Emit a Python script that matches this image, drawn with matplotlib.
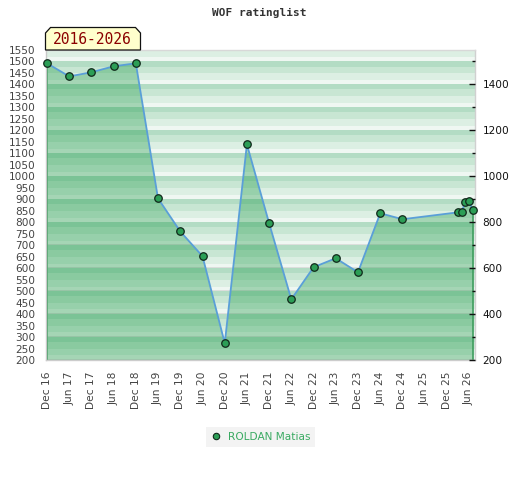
import numpy as np
import matplotlib
matplotlib.use("Agg")
import matplotlib.pyplot as plt
import matplotlib.dates as mdates
from matplotlib.patches import Polygon
from matplotlib.lines import Line2D
import datetime as dt

# ---- data ----
dates = ['2016-12-01', '2017-06-01', '2017-12-01', '2018-06-01', '2018-12-01',
         '2019-06-01', '2019-12-01', '2020-06-01', '2020-12-01', '2021-06-01',
         '2021-12-01', '2022-06-01', '2022-12-01', '2023-06-01', '2023-12-01',
         '2024-06-01', '2024-12-01', '2026-03-01', '2026-04-01', '2026-05-01',
         '2026-06-01', '2026-07-01']
ratings = [1492, 1435, 1453, 1479, 1492, 904, 760, 652, 273, 1139,
           795, 464, 604, 643, 582, 839, 813, 843, 846, 887, 891, 853]
player = 'ROLDAN Matias'
title = 'WOF ratinglist'
period_label = '2016-2026'
y_left_ticks = list(range(200, 1551, 50))
y_right_major = list(range(200, 1401, 200))
y_right_minor = list(range(300, 1501, 200))

W, H = 520, 480
fig = plt.figure(figsize=(W / 100, H / 100), dpi=100)
ax = fig.add_axes([45.7 / W, 1 - 360 / H, (475 - 45.7) / W, (360 - 50) / H])

x = mdates.date2num([dt.datetime.strptime(d, '%Y-%m-%d') for d in dates])
ymin, ymax = 200, 1550
xmin = mdates.date2num(dt.datetime(2016, 11, 20))
xmax = mdates.date2num(dt.datetime(2026, 7, 20))

# striped background (sawtooth of shades, period 100)
levels = ['#b3dcc4', '#c8e6d3', '#dcefe3', '#eff7f2']
res = 1.0
vals = np.arange(ymax, ymin, -res) - res / 2
rows = []
for v in vals:
    phase = (np.ceil(v / 100) * 100 - v) / 100.0
    if phase < 0.22:
        c = levels[0]
    elif phase < 0.5:
        c = levels[1]
    elif phase < 0.8:
        c = levels[2]
    else:
        c = levels[3]
    if phase > 0.97:
        c = '#dcdedc'
    rows.append(matplotlib.colors.to_rgb(c))
img = np.array(rows)[:, None, :]
ax.imshow(img, extent=[xmin, xmax, ymin, ymax], aspect='auto',
          interpolation='nearest', zorder=0)

# filled area
ax.fill_between(x, ymin, ratings, facecolor='#008c30', alpha=0.31, lw=0, zorder=1)
ax.plot([x[0], x[0]], [ymin, ratings[0]], color='#3c9c5c', lw=1.2, zorder=2)
ax.plot([x[-1], x[-1]], [ymin, ratings[-1]], color='#3c9c5c', lw=1.2, zorder=2)
ax.plot(x, ratings, color='#5a9fd8', lw=1.3, zorder=3)
ax.plot(x, ratings, ls='none', marker='o', ms=5.4, mfc='#2c9e56', mec='#10281a',
        mew=0.9, zorder=4, clip_on=False)

ax.set_xlim(xmin, xmax)
ax.set_ylim(ymin, ymax)

# x ticks: Dec / Jun
xt = []
for yr in range(2016, 2027):
    for m in (6, 12):
        d = dt.datetime(yr, m, 1)
        if dt.datetime(2016, 12, 1) <= d <= dt.datetime(2026, 6, 1):
            xt.append(mdates.date2num(d))
ax.set_xticks(xt)
ax.xaxis.set_major_formatter(mdates.DateFormatter('%b %y'))
ax.tick_params(axis='x', length=0, pad=8.5, labelsize=7.7, labelcolor='#444444',
               labelrotation=90)
ax.set_yticks(y_left_ticks)
ax.tick_params(axis='y', length=0, pad=7.5, labelsize=7.6, labelcolor='#444444')

for s, c in (('left', '#c8c8c8'), ('bottom', '#cccccc'), ('top', '#d8d8d8'),
             ('right', '#d0d0d0')):
    ax.spines[s].set_color(c)
    ax.spines[s].set_linewidth(1.0)

ax2 = ax.twinx()
ax2.set_ylim(ymin, ymax)
ax2.set_yticks(y_right_major)
ax2.set_yticks(y_right_minor, minor=True)
ax2.tick_params(axis='y', which='major', direction='in', length=4, width=1,
                color='#111111', pad=5.5, labelsize=7.6, labelcolor='#111111')
ax2.tick_params(axis='y', which='minor', direction='in', length=2.5, width=1,
                color='#111111')
for s in ax2.spines.values():
    s.set_visible(False)

# title
fig.text(259.5 / W, 1 - 13 / H, title, ha='center', va='center',
         family='DejaVu Sans Mono', fontweight='bold', fontsize=8, color='#333333')

# period box
px = [(45.5, 50), (45.5, 33), (50.5, 27.5), (135.5, 27.5), (140.5, 33), (140.5, 50)]
poly = Polygon([(a / W, 1 - b / H) for a, b in px], closed=True,
               facecolor='#ffffcc', edgecolor='#111111', lw=0.9,
               transform=fig.transFigure, zorder=5)
fig.add_artist(poly)
fig.text(92 / W, 1 - 40 / H, period_label, ha='center', va='center',
         family='DejaVu Sans Mono', fontsize=10.5, color='#8b0000', zorder=6)

# legend
h = Line2D([], [], ls='none', marker='o', ms=4.6, mfc='#2c9e56', mec='#10281a', mew=0.8)
leg = fig.legend([h], [player], loc='center', bbox_to_anchor=(260.5 / W, 1 - 437 / H),
                 frameon=True, fancybox=False, facecolor='#f0f0f0', edgecolor='none',
                 fontsize=7.6, handlelength=1.0, handletextpad=0.7, borderpad=0.45,
                 labelcolor='#3aaa62', borderaxespad=0)
leg.get_frame().set_linewidth(0)

fig.savefig('out.png', dpi=100)
